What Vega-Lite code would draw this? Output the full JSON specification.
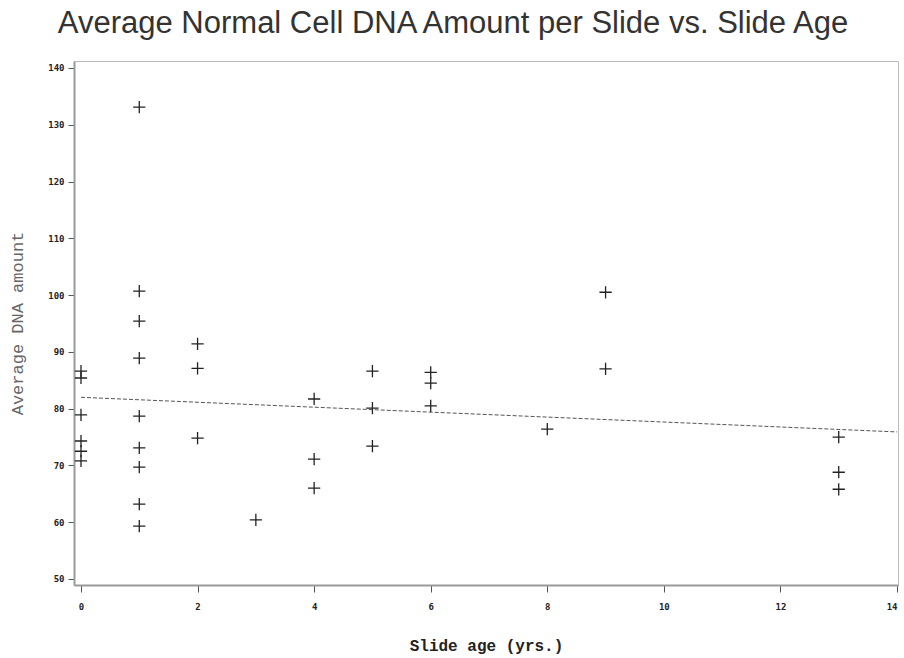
{
  "$schema": "https://vega.github.io/schema/vega-lite/v6.json",
  "width": 824,
  "height": 524,
  "autosize": "none",
  "padding": {"left": 74, "top": 61, "right": 6, "bottom": 73},
  "background": "white",
  "title": {
    "text": "Average Normal Cell DNA Amount per Slide vs. Slide Age",
    "font": "Liberation Sans",
    "fontSize": 31,
    "fontWeight": "normal",
    "color": "#333333",
    "anchor": "middle",
    "frame": "bounds",
    "baseline": "alphabetic",
    "offset": -3
  },
  "config": {
    "view": {"stroke": "#bbbbbb", "strokeWidth": 1},
    "axis": {
      "grid": false,
      "domainColor": "#999999",
      "domainWidth": 2,
      "tickColor": "#555555",
      "labelFont": "DejaVu Sans Mono",
      "labelFontWeight": "bold",
      "labelFontSize": 9,
      "labelColor": "#222222",
      "titleFont": "Liberation Mono",
      "titleFontWeight": "bold",
      "titleFontSize": 16
    }
  },
  "datasets": {
    "pts": [
      {"age": 0, "dna": 86.6}, {"age": 0, "dna": 85.4}, {"age": 0, "dna": 78.9},
      {"age": 0, "dna": 74.3}, {"age": 0, "dna": 72.5}, {"age": 0, "dna": 70.8},
      {"age": 1, "dna": 133.1}, {"age": 1, "dna": 100.7}, {"age": 1, "dna": 95.4},
      {"age": 1, "dna": 88.9}, {"age": 1, "dna": 78.7}, {"age": 1, "dna": 73.1},
      {"age": 1, "dna": 69.7}, {"age": 1, "dna": 63.2}, {"age": 1, "dna": 59.3},
      {"age": 2, "dna": 91.4}, {"age": 2, "dna": 87.1}, {"age": 2, "dna": 74.8},
      {"age": 3, "dna": 60.4},
      {"age": 4, "dna": 81.7}, {"age": 4, "dna": 71.1}, {"age": 4, "dna": 66.0},
      {"age": 5, "dna": 86.6}, {"age": 5, "dna": 80.1}, {"age": 5, "dna": 73.4},
      {"age": 6, "dna": 86.4}, {"age": 6, "dna": 84.5}, {"age": 6, "dna": 80.5},
      {"age": 8, "dna": 76.4},
      {"age": 9, "dna": 100.5}, {"age": 9, "dna": 87.0},
      {"age": 13, "dna": 75.0}, {"age": 13, "dna": 68.8}, {"age": 13, "dna": 65.8}
    ],
    "fit": [
      {"age": 0, "dna": 82.0},
      {"age": 14, "dna": 75.9}
    ]
  },
  "layer": [
    {
      "data": {"name": "fit"},
      "mark": {"type": "line", "color": "#555555", "strokeWidth": 1, "strokeDash": [4, 2], "clip": true},
      "encoding": {
        "x": {"field": "age", "type": "quantitative"},
        "y": {"field": "dna", "type": "quantitative"}
      }
    },
    {
      "data": {"name": "pts"},
      "mark": {
        "type": "point",
        "shape": "M-1,0L1,0M0,-1L0,1",
        "filled": false,
        "size": 150,
        "stroke": "#222222",
        "strokeWidth": 1.3,
        "opacity": 1
      },
      "encoding": {
        "x": {
          "field": "age",
          "type": "quantitative",
          "scale": {"domain": [-0.12, 14.017], "nice": false, "zero": false},
          "axis": {
            "values": [0, 2, 4, 6, 8, 10, 12, 14],
            "format": "d",
            "title": "Slide age (yrs.)",
            "titleColor": "#222222",
            "titleX": 412,
            "titleY": 65,
            "titleBaseline": "alphabetic",
            "tickSize": 7,
            "labelPadding": 10
          }
        },
        "y": {
          "field": "dna",
          "type": "quantitative",
          "scale": {"domain": [48.94, 141.23], "nice": false, "zero": false},
          "axis": {
            "values": [50, 60, 70, 80, 90, 100, 110, 120, 130, 140],
            "format": "d",
            "title": "Average DNA amount",
            "titleColor": "#666666",
            "titleFontWeight": "normal",
            "titleFontSize": 17,
            "titleX": -52,
            "titleY": 262,
            "titleAngle": -90,
            "titleAlign": "center",
            "titleBaseline": "alphabetic",
            "tickSize": 6,
            "labelPadding": 4
          }
        }
      }
    }
  ]
}
